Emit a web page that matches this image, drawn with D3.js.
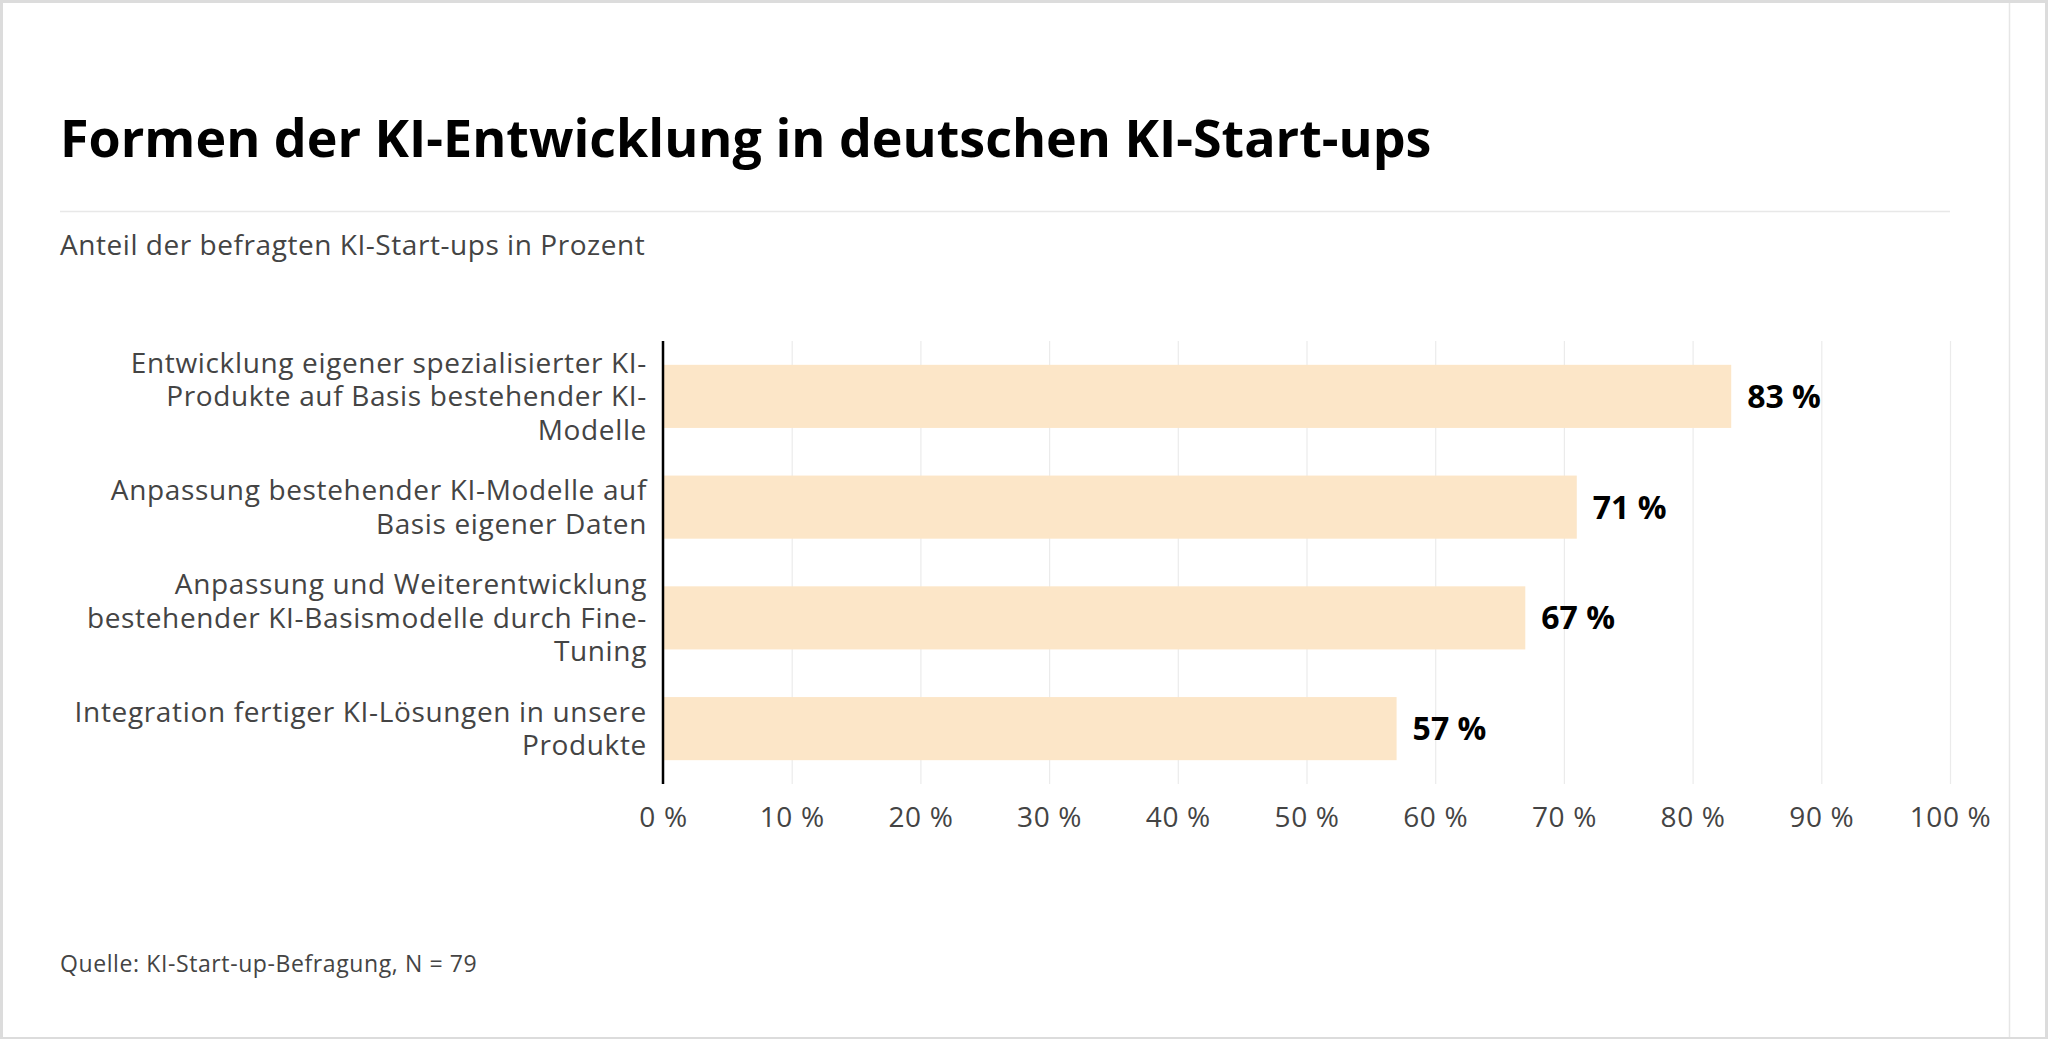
<!DOCTYPE html>
<html>
<head>
<meta charset="utf-8">
<script src="https://cdn.jsdelivr.net/npm/d3@7"></script>
<style>
  body { margin: 0; background: #dcdcdc; }
  svg { display: block; }
  text { font-family: "Open Sans", Lato, sans-serif; }
</style>
</head>
<body>
<div id="chart"></div>
<script>
// chart data
const categories = [
  ["Entwicklung eigener spezialisierter KI-", "Produkte auf Basis bestehender KI-", "Modelle"],
  ["Anpassung bestehender KI-Modelle auf", "Basis eigener Daten"],
  ["Anpassung und Weiterentwicklung", "bestehender KI-Basismodelle durch Fine-", "Tuning"],
  ["Integration fertiger KI-Lösungen in unsere", "Produkte"]
];
const values = [83, 71, 67, 57];
const xTicks = [0, 10, 20, 30, 40, 50, 60, 70, 80, 90, 100];

const titleText = "Formen der KI-Entwicklung in deutschen KI-Start-ups";
const subtitleText = "Anteil der befragten KI-Start-ups in Prozent";
const sourceText = "Quelle: KI-Start-up-Befragung, N = 79";

const width = 2048, height = 1039;
const margin = {top: 341, left: 663, right: 98, bottom: 255};
const plotW = width - margin.left - margin.right;
const plotH = height - margin.top - margin.bottom;
const textGrey = "#444";

const svg = d3.select("#chart").append("svg")
    .attr("width", width).attr("height", height);

// card + frame
svg.append("rect").attr("x", 3).attr("y", 3)
    .attr("width", width - 6).attr("height", height - 5)
    .attr("fill", "#fff");
svg.append("line").attr("x1", 2009.5).attr("x2", 2009.5)
    .attr("y1", 3).attr("y2", height - 2)
    .attr("stroke", "#e6e6e6").attr("stroke-width", 1.5);

// header
svg.append("text").attr("x", 60).attr("y", 157)
    .attr("font-size", 52).attr("font-weight", 700).attr("fill", "#000")
    .text(titleText);
svg.append("line").attr("x1", 60).attr("x2", 1950)
    .attr("y1", 211.5).attr("y2", 211.5)
    .attr("stroke", "#e8e8e8").attr("stroke-width", 1.5);
svg.append("text").attr("x", 60).attr("y", 255)
    .attr("font-size", 28).attr("letter-spacing", 0.55).attr("fill", textGrey)
    .text(subtitleText);

// scales
const x = d3.scaleLinear().domain([0, 100]).range([0, plotW]);
const y = d3.scaleBand().domain(d3.range(values.length))
    .range([0, plotH]).paddingInner(0.43).paddingOuter(0.215);

const g = svg.append("g").attr("transform", `translate(${margin.left},${margin.top})`);

// grid
const grid = g.append("g")
    .attr("transform", `translate(0,${plotH})`)
    .call(d3.axisBottom(x).tickValues(xTicks).tickSize(-plotH).tickFormat(""));
grid.select(".domain").remove();
grid.selectAll("line").attr("stroke", "#ebebeb").attr("stroke-width", 1.2);

// bars
g.selectAll("rect.bar").data(values).enter().append("rect")
    .attr("class", "bar")
    .attr("x", 0)
    .attr("y", (d, i) => y(i))
    .attr("width", d => x(d))
    .attr("height", y.bandwidth())
    .attr("fill", "#fce6c8");

// value labels
g.selectAll("text.val").data(values).enter().append("text")
    .attr("class", "val")
    .attr("x", d => x(d) + 16)
    .attr("y", (d, i) => y(i) + y.bandwidth() / 2)
    .attr("dy", "0.36em")
    .attr("font-size", 32).attr("font-weight", 700).attr("fill", "#000")
    .text(d => d + " %");

// x axis labels
const xAxis = g.append("g")
    .attr("transform", `translate(0,${plotH})`)
    .call(d3.axisBottom(x).tickValues(xTicks).tickSize(0).tickFormat(d => d + " %"));
xAxis.select(".domain").remove();
xAxis.selectAll("text")
    .attr("y", 43).attr("dy", 0)
    .attr("font-size", 28).attr("letter-spacing", 0.65).attr("fill", textGrey)
    .style("font-family", "'Open Sans', Lato, sans-serif");

// category labels
const lineH = 33.5;
const cat = g.selectAll("text.cat").data(categories).enter().append("text")
    .attr("class", "cat")
    .attr("text-anchor", "end")
    .attr("font-size", 28).attr("letter-spacing", 0.65).attr("fill", textGrey)
    .attr("transform", (d, i) => `translate(-16,${y(i) + y.bandwidth() / 2})`);
cat.selectAll("tspan").data(d => d.map((t, j) => ({t, j, n: d.length}))).enter()
    .append("tspan")
    .attr("x", 0)
    .attr("y", d => (d.j - (d.n - 1) / 2) * lineH)
    .attr("dy", "0.36em")
    .text(d => d.t);

// y axis line
g.append("line").attr("x1", 0).attr("x2", 0)
    .attr("y1", 0).attr("y2", plotH)
    .attr("stroke", "#000").attr("stroke-width", 2.5);

// footer
svg.append("text").attr("x", 60).attr("y", 972)
    .attr("font-size", 23).attr("letter-spacing", 0.6).attr("fill", textGrey)
    .text(sourceText);
</script>
</body>
</html>
